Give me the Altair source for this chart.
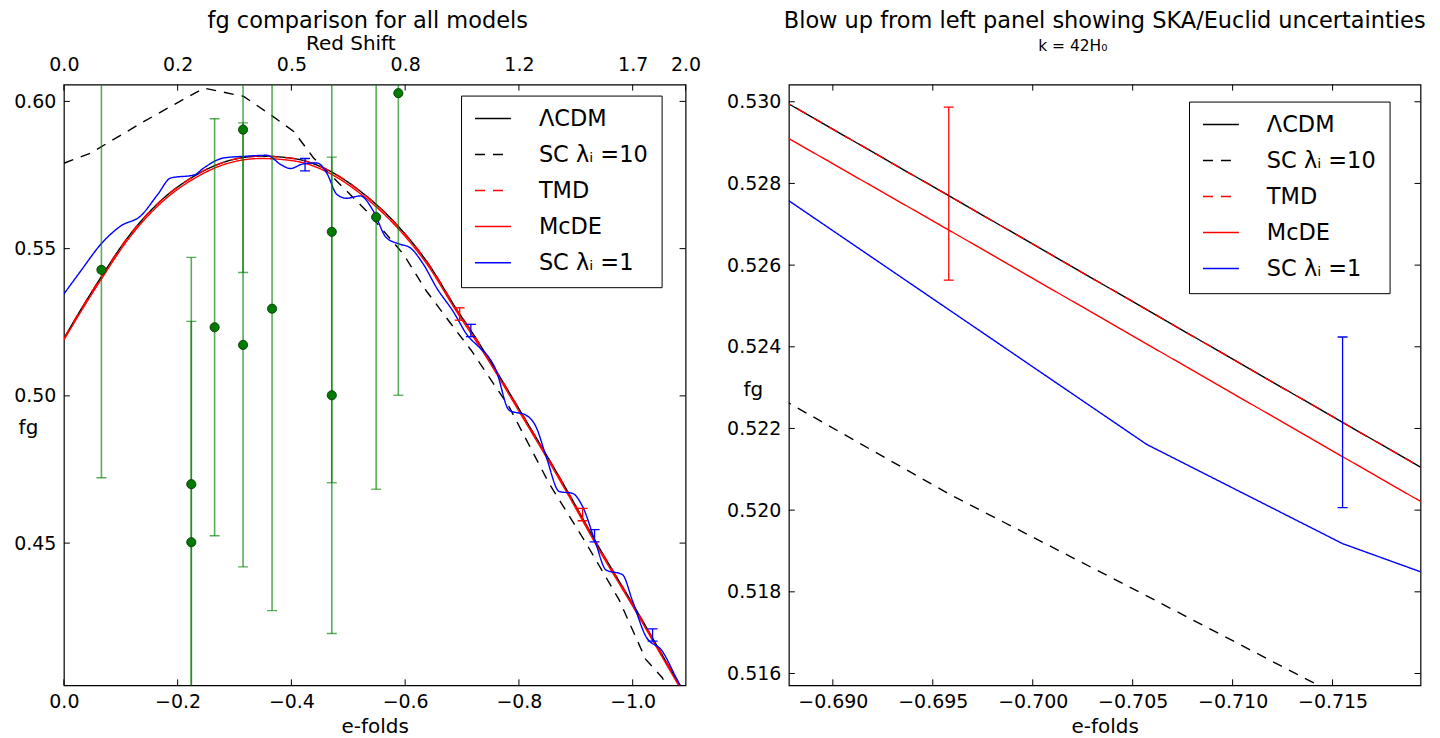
import altair as alt
import pandas as pd

FONT = "DejaVu Sans"

# ---------------- series / legend ----------------
models = ["ΛCDM", "SC λᵢ =10", "TMD", "McDE", "SC λᵢ =1"]
model_colors = ["black", "black", "red", "red", "blue"]
model_dashes = [[1, 0], [10, 8], [10, 8], [1, 0], [1, 0]]

# ---------------- left panel: model curves ----------------
lcdm_n = [0.0, -0.033, -0.065, -0.112, -0.170, -0.229, -0.287, -0.346, -0.404, -0.462, -0.521,
          -0.579, -0.637, -0.6958, -0.7155, -0.736, -0.805, -0.881, -0.940, -0.999, -1.075, -1.100]
lcdm_fg = [0.5195, 0.5303, 0.5402, 0.5537, 0.5662, 0.5746, 0.5797, 0.5814, 0.5806, 0.5769, 0.5695,
           0.5594, 0.5459, 0.5278, 0.5222, 0.5160, 0.4940, 0.4691, 0.4488, 0.4297, 0.4043, 0.3960]
tmd_fg = [0.5195, 0.5303, 0.5402, 0.5537, 0.5662, 0.5746, 0.5797, 0.5814, 0.5806, 0.5769, 0.5695,
          0.5594, 0.5459, 0.5278, 0.5222, 0.5160, 0.4940, 0.4691, 0.4488, 0.4297, 0.4043, 0.3960]
mcde_fg = [0.5190, 0.5296, 0.5394, 0.5529, 0.5654, 0.5738, 0.5789, 0.5806, 0.5798, 0.5761, 0.5687,
           0.5586, 0.5451, 0.5270, 0.5213, 0.5152, 0.4932, 0.4683, 0.4480, 0.4289, 0.4036, 0.3953]

sc10_n = [0.0, -0.048, -0.077, -0.141, -0.188, -0.246, -0.316, -0.363, -0.404, -0.439, -0.480, -0.532,
          -0.597, -0.637, -0.6878, -0.716, -0.783, -0.853, -0.918, -0.976, -1.023, -1.052, -1.075]
sc10_fg = [0.5790, 0.5825, 0.5859, 0.5932, 0.5983, 0.6045, 0.6017, 0.5955, 0.5898, 0.5808, 0.5729, 0.5628,
           0.5481, 0.5357, 0.5226, 0.5155, 0.4962, 0.4703, 0.4500, 0.4308, 0.4105, 0.4043, 0.3960]

sc1_n = [0.0, -0.030, -0.065, -0.100, -0.135, -0.165, -0.188, -0.229, -0.246, -0.281, -0.322, -0.357,
         -0.381, -0.398, -0.421, -0.445, -0.462, -0.480, -0.497, -0.521, -0.544, -0.567, -0.591, -0.608,
         -0.632, -0.655, -0.6878, -0.6958, -0.7057, -0.7155, -0.7254, -0.760, -0.783, -0.813, -0.830,
         -0.848, -0.871, -0.894, -0.912, -0.935, -0.953, -0.982, -0.999, -1.023, -1.052, -1.078, -1.100]
sc1_fg = [0.5346, 0.5425, 0.5515, 0.5577, 0.5611, 0.5684, 0.5740, 0.5750, 0.5774, 0.5808, 0.5814, 0.5817,
          0.5786, 0.5772, 0.5788, 0.5791, 0.5757, 0.5684, 0.5671, 0.5679, 0.5628, 0.5537, 0.5515, 0.5504,
          0.5447, 0.5368, 0.5276, 0.5249, 0.5216, 0.5192, 0.5174, 0.5086, 0.4951, 0.4934, 0.4895,
          0.4793, 0.4675, 0.4669, 0.4624, 0.4500, 0.4409, 0.4393, 0.4308, 0.4184, 0.4133, 0.4037, 0.3960]

# observational points (green)
obs_n = [-0.066, -0.224, -0.224, -0.265, -0.315, -0.315, -0.366, -0.471, -0.471, -0.549, -0.588]
obs_fg = [0.5428, 0.4700, 0.4503, 0.5233, 0.5904, 0.5173, 0.5296, 0.5557, 0.5002, 0.5607, 0.6028]
obs_err = [0.0706, 0.0770, 0.0750, 0.0708, 0.0485, 0.0754, 0.1025, 0.0852, 0.0809, 0.0924, 0.1026]

# forecast error bars on the models (left panel)
red_err_n = [-0.6958, -0.912]
red_err_fg = [0.5278, 0.4597]
red_err_half = [0.0021, 0.0021]
blue_err_n = [-0.424, -0.7155, -0.933, -1.035]
blue_err_fg = [0.5785, 0.5222, 0.4525, 0.4188]
blue_err_half = [0.0021, 0.0021, 0.0021, 0.0021]

# ---------------- right panel (blow-up) ----------------
zoom_n = [-0.6859, -0.6958, -0.7057, -0.7155, -0.7254]
lcdm_zoom = [0.53048, 0.52770, 0.52491, 0.52215, 0.51937]
tmd_zoom = [0.53048, 0.52770, 0.52491, 0.52215, 0.51937]
mcde_zoom = [0.52963, 0.52686, 0.52407, 0.52131, 0.51853]
sc1_zoom = [0.52821, 0.52491, 0.52161, 0.51918, 0.51743]
sc10_zoom = [0.52315, 0.52040, 0.51790, 0.51540, 0.51290]

zoom_red_err_n = [-0.6958]
zoom_red_err_fg = [0.52775]
zoom_red_err_half = [0.00212]
zoom_blue_err_n = [-0.7155]
zoom_blue_err_fg = [0.52215]
zoom_blue_err_half = [0.00209]

# ---------------- ticks ----------------
efold_ticks_left = [0.0, -0.2, -0.4, -0.6, -0.8, -1.0]
redshift_tick_efolds = [0.0, -0.2, -0.4, -0.6, -0.8, -1.0, -1.093]
fg_ticks_left = [0.45, 0.50, 0.55, 0.60]
efold_ticks_right = [-0.690, -0.695, -0.700, -0.705, -0.710, -0.715]
fg_ticks_right = [0.516, 0.518, 0.520, 0.522, 0.524, 0.526, 0.528, 0.530]

WL, WR, H = 623, 633, 602
TICK = 6
LAB_FS = 19
TIT_FS = 20
HEAD_FS = 22.5


def curves_df(entries):
    rows = []
    for name, ns, fgs in entries:
        for i, (n, f) in enumerate(zip(ns, fgs)):
            rows.append({"model": name, "efolds": n, "fg": f, "i": i})
    return pd.DataFrame(rows)


def curve_layer(df, xs, ys, interp, legend):
    return alt.Chart(df).mark_line(strokeWidth=1.4, clip=True, interpolate=interp).encode(
        x=alt.X("efolds:Q", scale=xs, axis=None),
        y=alt.Y("fg:Q", scale=ys, axis=None),
        color=alt.Color("model:N", scale=alt.Scale(domain=models, range=model_colors), legend=legend),
        strokeDash=alt.StrokeDash("model:N", scale=alt.Scale(domain=models, range=model_dashes), legend=legend),
        order=alt.Order("i:Q"),
    )


def errbar_layers(ns, centers, halves, color, xs, ys, opacity=1.0, width=1.3):
    bars = pd.DataFrame({"efolds": ns,
                         "lo": [c - h for c, h in zip(centers, halves)],
                         "hi": [c + h for c, h in zip(centers, halves)]})
    caps = pd.DataFrame({"efolds": ns + ns, "cap": list(bars["lo"]) + list(bars["hi"])})
    rule = alt.Chart(bars).mark_rule(color=color, strokeWidth=width, opacity=opacity, clip=True).encode(
        x=alt.X("efolds:Q", scale=xs, axis=None),
        y=alt.Y("lo:Q", scale=ys, axis=None), y2="hi:Q")
    cap = alt.Chart(caps).mark_tick(color=color, orient="horizontal", size=10, thickness=1.3,
                                   opacity=opacity, clip=True).encode(
        x=alt.X("efolds:Q", scale=xs, axis=None),
        y=alt.Y("cap:Q", scale=ys, axis=None))
    return [rule, cap]


def tick_layers(W, xs, ys, xticks, yticks, bottom_axis, left_axis, top_ticks, top_axis):
    dx = pd.DataFrame({"v": xticks})
    dt = pd.DataFrame({"v": top_ticks})
    dy = pd.DataFrame({"v": yticks})
    rule = dict(color="black", strokeWidth=1)
    return [
        alt.Chart(dx).mark_rule(**rule).encode(
            x=alt.X("v:Q", scale=xs, axis=bottom_axis), y=alt.value(H - TICK), y2=alt.value(H)),
        alt.Chart(dt).mark_rule(**rule).encode(
            x=alt.X("v:Q", scale=xs, axis=top_axis), y=alt.value(0), y2=alt.value(TICK)),
        alt.Chart(dy).mark_rule(**rule).encode(
            y=alt.Y("v:Q", scale=ys, axis=left_axis), x=alt.value(0), x2=alt.value(TICK)),
        alt.Chart(dy).mark_rule(**rule).encode(
            y=alt.Y("v:Q", scale=ys, axis=None), x=alt.value(W - TICK), x2=alt.value(W)),
    ]


# ================= LEFT PANEL =================
xsL = alt.Scale(domain=[0.0, -1.093], nice=False, zero=False)
ysL = alt.Scale(domain=[0.4017, 0.6057], nice=False, zero=False)

legendL = alt.Legend(title=None, orient="none", legendX=398, legendY=11)

sc10_df = curves_df([(models[1], sc10_n, sc10_fg)])
main_df = curves_df([(models[0], lcdm_n, lcdm_fg), (models[2], lcdm_n, tmd_fg),
                     (models[3], lcdm_n, mcde_fg), (models[4], sc1_n, sc1_fg)])

obs_df = pd.DataFrame({"efolds": obs_n, "fg": obs_fg})
green = errbar_layers(obs_n, obs_fg, obs_err, "green", xsL, ysL, opacity=0.65, width=1.6)
dots = alt.Chart(obs_df).mark_point(filled=True, size=85, fill="#007a00", stroke="#003300",
                                    strokeWidth=0.8, opacity=1, clip=True).encode(
    x=alt.X("efolds:Q", scale=xsL, axis=None), y=alt.Y("fg:Q", scale=ysL, axis=None))

bottomL = alt.Axis(orient="bottom", values=efold_ticks_left, format=".1f", title="e-folds",
                   labelPadding=7.5, titlePadding=4.5, labelFlush=False, labelOverlap=False)
topL = alt.Axis(orient="top", values=redshift_tick_efolds, title="Red Shift",
                labelExpr="format(exp(-datum.value) - 1, '.1f')",
                titleX=287, titleAlign="center",
                labelPadding=10, titlePadding=2, labelFlush=False, labelOverlap=False)
leftL = alt.Axis(orient="left", values=fg_ticks_left, format=".2f", title="fg",
                 titleAngle=0, titleX=-36, titleY=344, titleAlign="center", titleBaseline="middle",
                 labelPadding=8, labelFlush=False, labelOverlap=False)

left_layers = (
    [curve_layer(sc10_df, xsL, ysL, "linear", legendL),
     curve_layer(main_df, xsL, ysL, "monotone", legendL)]
    + errbar_layers(red_err_n, red_err_fg, red_err_half, "red", xsL, ysL)
    + errbar_layers(blue_err_n, blue_err_fg, blue_err_half, "blue", xsL, ysL)
    + green + [dots]
    + tick_layers(WL, xsL, ysL, efold_ticks_left, fg_ticks_left, bottomL, leftL,
                  redshift_tick_efolds, topL)
)
left = alt.layer(*left_layers).resolve_axis(x="independent", y="independent").properties(
    width=WL, height=H,
    title=alt.TitleParams("fg comparison for all models", fontSize=HEAD_FS, font=FONT,
                          fontWeight="normal", anchor="middle", frame="group", offset=1, dx=-7))

# ================= RIGHT PANEL =================
xsR = alt.Scale(domain=[-0.6878, -0.7194], nice=False, zero=False)
ysR = alt.Scale(domain=[0.51571, 0.53042], nice=False, zero=False)

legendR = alt.Legend(title=None, orient="none", legendX=401, legendY=17)

sc10z_df = curves_df([(models[1], zoom_n, sc10_zoom)])
mainz_df = curves_df([(models[0], zoom_n, lcdm_zoom), (models[2], zoom_n, tmd_zoom),
                      (models[3], zoom_n, mcde_zoom), (models[4], zoom_n, sc1_zoom)])

bottomR = alt.Axis(orient="bottom", values=efold_ticks_right, format=".3f", title="e-folds",
                   labelPadding=7.5, titlePadding=4.5, labelFlush=False, labelOverlap=False)
leftR = alt.Axis(orient="left", values=fg_ticks_right, format=".3f", title="fg",
                 titleAngle=0, titleX=-36, titleY=306, titleAlign="center", titleBaseline="middle",
                 labelPadding=8, labelFlush=False, labelOverlap=False)
topR = alt.Axis(orient="top", values=efold_ticks_right, labels=False, labelPadding=0,
                title="k = 42H₀", titleFontSize=15.5, titleX=284, titleAlign="center",
                titlePadding=31)

right_layers = (
    [curve_layer(sc10z_df, xsR, ysR, "linear", legendR),
     curve_layer(mainz_df, xsR, ysR, "linear", legendR)]
    + errbar_layers(zoom_red_err_n, zoom_red_err_fg, zoom_red_err_half, "red", xsR, ysR)
    + errbar_layers(zoom_blue_err_n, zoom_blue_err_fg, zoom_blue_err_half, "blue", xsR, ysR)
    + tick_layers(WR, xsR, ysR, efold_ticks_right, fg_ticks_right, bottomR, leftR,
                  efold_ticks_right, topR)
)
right = alt.layer(*right_layers).resolve_axis(x="independent", y="independent").properties(
    width=WR, height=H,
    title=alt.TitleParams("Blow up from left panel showing SKA/Euclid uncertainties",
                          fontSize=HEAD_FS, font=FONT, fontWeight="normal",
                          anchor="middle", frame="group", offset=6))

chart = (
    alt.hconcat(left, right, spacing=24.5)
    .resolve_scale(color="independent", strokeDash="independent")
    .properties(padding={"left": 5, "top": 0, "right": 5, "bottom": 0})
    .configure_view(stroke="black", strokeWidth=1.2)
    .configure_axis(labelFont=FONT, titleFont=FONT, labelFontSize=LAB_FS, titleFontSize=TIT_FS,
                    titleFontWeight="normal", labelColor="black", titleColor="black",
                    grid=False, domain=False, ticks=False)
    .configure_title(color="black")
    .configure_legend(strokeColor="black", fillColor="white", padding=13, cornerRadius=0,
                      labelFont=FONT, labelFontSize=22.5, labelColor="black",
                      symbolType="stroke", symbolStrokeWidth=1.5, symbolSize=1296,
                      labelOffset=27, rowPadding=13.1, clipHeight=20)
)

chart.save("out.html", embed_options={"renderer": "svg", "actions": False})
